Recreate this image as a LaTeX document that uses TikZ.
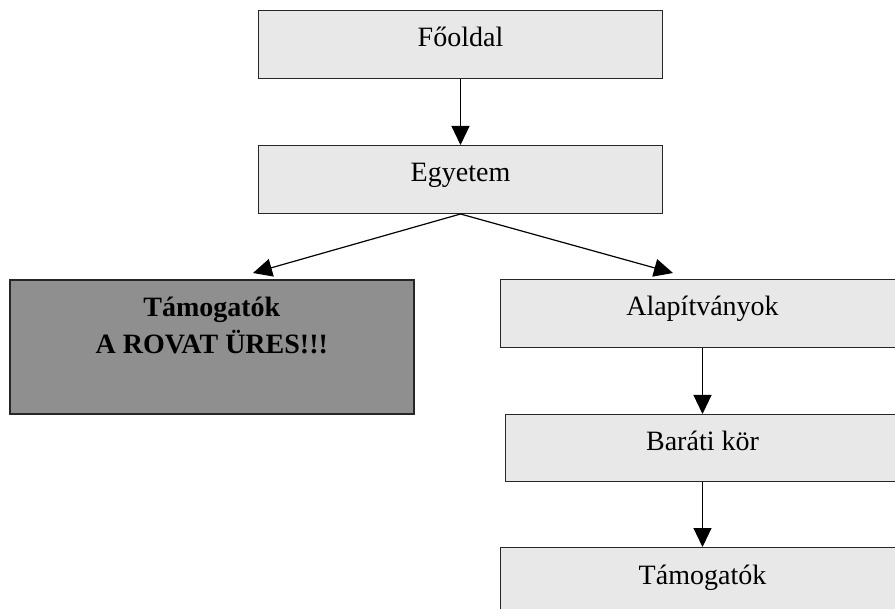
\documentclass[tikz,border=0pt]{standalone}
\usepackage{fontspec}
\setmainfont{Liberation Serif}
\usepackage{xcolor}
\usepackage{tikz}
\usetikzlibrary{arrows.meta}
\usetikzlibrary{positioning}
\tikzset{>={Triangle[length=9.5pt,width=9pt]}}
\colorlet{boxcol}{black!9}
\colorlet{emptycol}{black!44}
\tikzstyle{pagebox}=[draw=black!85,line width=0.5pt,fill=boxcol,anchor=north west,
  inner xsep=0pt,inner ysep=0pt,text height=18.25pt,text depth=15.75pt,
  minimum width=202pt,font=\fontsize{14}{16}\selectfont]
\tikzstyle{link}=[->,line width=0.6pt]

\begin{document}
\begin{tikzpicture}[x=0.5pt,y=-0.5pt]
            \def\W{895}
            \def\H{609}
            \clip (0,0) rectangle (\W,\H);
            \fill[white] (0,0) rectangle (\W,\H);
            % main pages
            \node[pagebox] (fooldal) at (258,10) {Főoldal};
            \node[pagebox] (egyetem) at (258,145) {Egyetem};
            % empty section
            \node[pagebox,fill=emptycol,line width=0.8pt,text depth=48.75pt,
              font=\fontsize{14}{18.5}\selectfont\bfseries] (tamogatok) at (9,279)
              {\begin{tabular}[t]{@{}c@{}}Támogatók\\A ROVAT ÜRES!!!\end{tabular}};
            \node[pagebox] (alap) at (500,279) {Alapítványok};
            \node[pagebox,minimum width=197pt,text depth=15.25pt] (barati) at (505,414) {Baráti kör};
            \node[pagebox] (tamogatok2) at (500,547) {Támogatók};
            \coordinate (ltip) at (253,273);
            \coordinate (rtip) at (673,273);
            \draw[link] (fooldal.south) -- (egyetem.north);
            \draw[link] (egyetem.south) -- (ltip);
            \draw[link] (egyetem.south) -- (rtip);
            \draw[link] (alap.south) -- (barati.north);
            \draw[link] (barati.south) -- (tamogatok2.north);
        \end{tikzpicture}
\end{document}
